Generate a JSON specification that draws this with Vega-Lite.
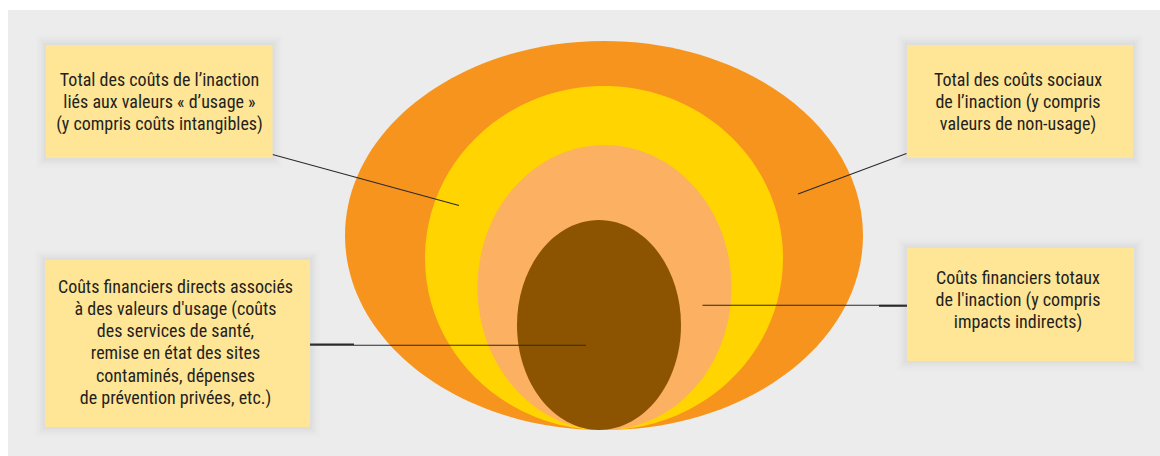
{
  "$schema": "https://vega.github.io/schema/vega-lite/v6.json",
  "autosize": {"type": "fit", "contains": "padding"},
  "width": 1160,
  "height": 456,
  "padding": 0,
  "background": "#ffffff",
  "config": {"view": {"stroke": null}},
  "datasets": {
    "panel": [{"x0": 8, "x1": 1160, "y0": 10, "y1": 456}],
    "ellipses": [
      {"layer": 1, "name": "Coûts sociaux totaux", "cx": 604, "cy": 235.5, "rx": 259},
      {"layer": 2, "name": "Valeurs d'usage", "cx": 604, "cy": 258, "rx": 179},
      {"layer": 3, "name": "Coûts financiers totaux", "cx": 604.5, "cy": 287.5, "rx": 127},
      {"layer": 4, "name": "Coûts financiers directs", "cx": 599, "cy": 325, "rx": 82}
    ],
    "boxes": [
      {"x0": 46, "x1": 272.5, "y0": 45, "y1": 158, "tx": 159.5, "ty": 85.5,
       "label": "Total des coûts de l’inaction\nliés aux valeurs « d’usage »\n(y compris coûts intangibles)"},
      {"x0": 45, "x1": 310, "y0": 260, "y1": 427, "tx": 175.5, "ty": 292.5,
       "label": "Coûts financiers directs associés\nà des valeurs d'usage (coûts\ndes services de santé,\nremise en état des sites\ncontaminés, dépenses\nde prévention privées, etc.)"},
      {"x0": 907, "x1": 1133, "y0": 45, "y1": 158, "tx": 1018, "ty": 85.5,
       "label": "Total des coûts sociaux\nde l’inaction (y compris\nvaleurs de non-usage)"},
      {"x0": 907, "x1": 1134, "y0": 248, "y1": 361, "tx": 1018, "ty": 283.5,
       "label": "Coûts financiers totaux\nde l'inaction (y compris\nimpacts indirects)"}
    ],
    "leaders": [
      {"kind": "thin", "xa": 272.5, "ya": 154.5, "xb": 459, "yb": 205.5},
      {"kind": "thin", "xa": 906.5, "ya": 153.5, "xb": 798, "yb": 194},
      {"kind": "thin", "xa": 354, "ya": 345.3, "xb": 586, "yb": 345.3},
      {"kind": "thick", "xa": 310, "ya": 344.6, "xb": 354, "yb": 344.6},
      {"kind": "thin", "xa": 702.5, "ya": 305.3, "xb": 879, "yb": 305.3},
      {"kind": "thick", "xa": 879, "ya": 305.7, "xb": 907, "yb": 305.7}
    ]
  },
  "encoding": {
    "x": {"type": "quantitative", "scale": {"domain": [0, 1160], "nice": false, "zero": false}, "axis": null},
    "y": {"type": "quantitative", "scale": {"domain": [0, 456], "nice": false, "zero": false, "reverse": true}, "axis": null}
  },
  "layer": [
    {
      "data": {"name": "panel"},
      "mark": {"type": "rect", "color": "#ececec"},
      "encoding": {
        "x": {"field": "x0"}, "x2": {"field": "x1"},
        "y": {"field": "y0"}, "y2": {"field": "y1"}
      }
    },
    {
      "data": {"name": "ellipses"},
      "mark": {"type": "point", "filled": true, "opacity": 1, "strokeWidth": 0},
      "encoding": {
        "x": {"field": "cx"},
        "y": {"field": "cy"},
        "order": {"field": "layer"},
        "size": {"field": "rx", "type": "quantitative", "legend": null,
                 "scale": {"type": "pow", "exponent": 2, "domain": [0, 600], "range": [0, 1440000]}},
        "shape": {"field": "name", "type": "nominal", "legend": null,
                  "scale": {"domain": ["Coûts sociaux totaux", "Valeurs d'usage", "Coûts financiers totaux", "Coûts financiers directs"],
                            "range": [
                              "M -1 0 A 1 0.751 0 1 0 1 0 A 1 0.751 0 1 0 -1 0 Z",
                              "M -1 0 A 1 0.961 0 1 0 1 0 A 1 0.961 0 1 0 -1 0 Z",
                              "M -1 0 A 1 1.122 0 1 0 1 0 A 1 1.122 0 1 0 -1 0 Z",
                              "M -1 0 A 1 1.28 0 1 0 1 0 A 1 1.28 0 1 0 -1 0 Z"
                            ]}},
        "color": {"field": "name", "type": "nominal", "legend": null,
                  "scale": {"domain": ["Coûts sociaux totaux", "Valeurs d'usage", "Coûts financiers totaux", "Coûts financiers directs"],
                            "range": ["#f7941e", "#ffd400", "#fbb062", "#8c5400"]}}
      }
    },
    {
      "data": {"name": "leaders"},
      "mark": {"type": "rule", "color": "#2a2a2a"},
      "encoding": {
        "x": {"field": "xa"}, "x2": {"field": "xb"},
        "y": {"field": "ya"}, "y2": {"field": "yb"},
        "strokeWidth": {"field": "kind", "type": "nominal", "legend": null,
                        "scale": {"domain": ["thin", "thick"], "range": [1.1, 2.2]}}
      }
    },
    {
      "data": {"name": "boxes"},
      "mark": {"type": "rect", "fill": null, "stroke": "#70707a", "strokeWidth": 20, "strokeOpacity": 0.014},
      "encoding": {"x": {"field": "x0"}, "x2": {"field": "x1"}, "y": {"field": "y0"}, "y2": {"field": "y1"}}
    },
    {
      "data": {"name": "boxes"},
      "mark": {"type": "rect", "fill": null, "stroke": "#70707a", "strokeWidth": 15, "strokeOpacity": 0.02},
      "encoding": {"x": {"field": "x0"}, "x2": {"field": "x1"}, "y": {"field": "y0"}, "y2": {"field": "y1"}}
    },
    {
      "data": {"name": "boxes"},
      "mark": {"type": "rect", "fill": null, "stroke": "#70707a", "strokeWidth": 10, "strokeOpacity": 0.03},
      "encoding": {"x": {"field": "x0"}, "x2": {"field": "x1"}, "y": {"field": "y0"}, "y2": {"field": "y1"}}
    },
    {
      "data": {"name": "boxes"},
      "mark": {"type": "rect", "fill": null, "stroke": "#70707a", "strokeWidth": 5, "strokeOpacity": 0.045},
      "encoding": {"x": {"field": "x0"}, "x2": {"field": "x1"}, "y": {"field": "y0"}, "y2": {"field": "y1"}}
    },
    {
      "data": {"name": "boxes"},
      "mark": {"type": "rect", "color": "#ffe596", "opacity": 1},
      "encoding": {"x": {"field": "x0"}, "x2": {"field": "x1"}, "y": {"field": "y0"}, "y2": {"field": "y1"}}
    },
    {
      "data": {"name": "boxes"},
      "mark": {"type": "text", "align": "center", "baseline": "alphabetic", "lineBreak": "\n",
               "lineHeight": 22.3, "fontSize": 18, "color": "#231f20",
               "font": "Liberation Sans Narrow, Roboto Condensed, DejaVu Sans Condensed, sans-serif"},
      "encoding": {"x": {"field": "tx"}, "y": {"field": "ty"}, "text": {"field": "label"}}
    }
  ]
}
